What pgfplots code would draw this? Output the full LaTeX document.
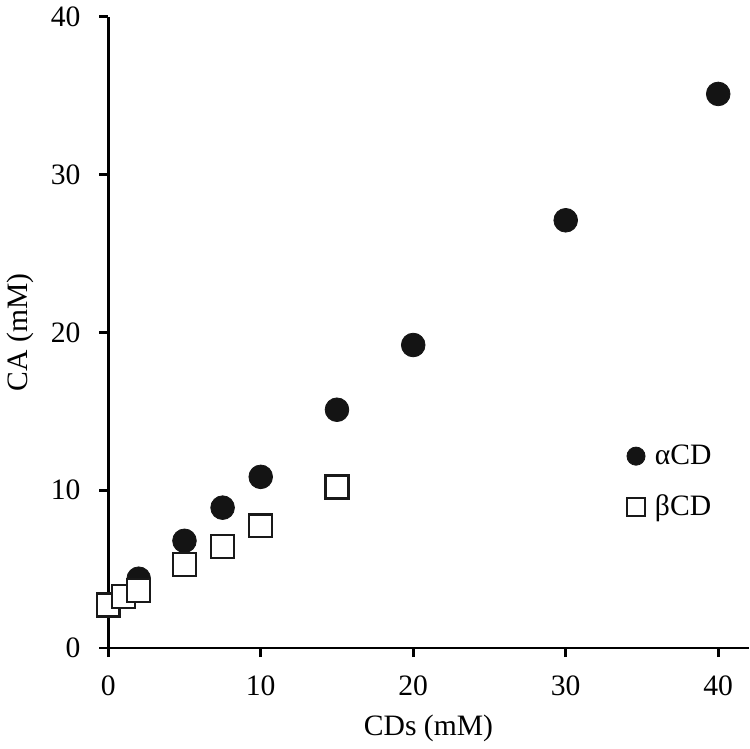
\documentclass[border=0pt]{standalone}
\usepackage{fontspec}
\setmainfont{Liberation Serif}
\usepackage{pgfplots}
\pgfplotsset{compat=1.18}
\begin{document}
\begin{tikzpicture}
\begin{axis}[
  scale only axis,
  width=324.5pt, height=320pt,
  xmin=0, xmax=42, ymin=0, ymax=40,
  axis lines*=left,
  axis line style={line width=1.3pt, shorten <=-4pt},
  xtick={0,10,20,30,40}, ytick={0,10,20,30,40},
  tick style={line width=1.3pt, black},
  tick align=outside, major tick length=4.5pt,
  tick label style={font=\fontsize{15}{16}\selectfont},
  yticklabel style={xshift=-6pt},
  xticklabel style={yshift=-6pt},
  label style={font=\fontsize{15}{16}\selectfont},
  /pgf/number format/assume math mode=true,
  xlabel={CDs (mM)}, ylabel={CA (mM)},
  xlabel style={yshift=-3pt},
  ylabel style={yshift=2pt},
  clip=false,
  legend style={draw=none, fill=none, at={(0.80,0.335)}, anchor=north west,
    font=\fontsize{15}{16}\selectfont, row sep=10pt,
    /tikz/every odd column/.append style={column sep=3pt},
    legend image code/.code={\draw[#1, mark size=4.6pt] plot coordinates {(0.3cm,0cm)};}},
  legend cell align=left,
]
\addplot[only marks, mark=*, mark size=6pt, mark options={fill=black!92, draw=black!92}] coordinates {
(2,4.4) (5,6.8) (7.5,8.9) (10,10.85) (15,15.1) (20,19.2) (30,27.1) (40,35.1)
};
\addlegendentry{αCD}
\addplot[only marks, mark=square*, mark size=5.8pt, mark options={fill=white, draw=black!90, line width=1.2pt}] coordinates {
(0,2.74) (1,3.27) (2,3.66) (5,5.3) (7.5,6.45) (10,7.75) (15,10.2)
};
\addlegendentry{βCD}
\end{axis}
\end{tikzpicture}
\end{document}
